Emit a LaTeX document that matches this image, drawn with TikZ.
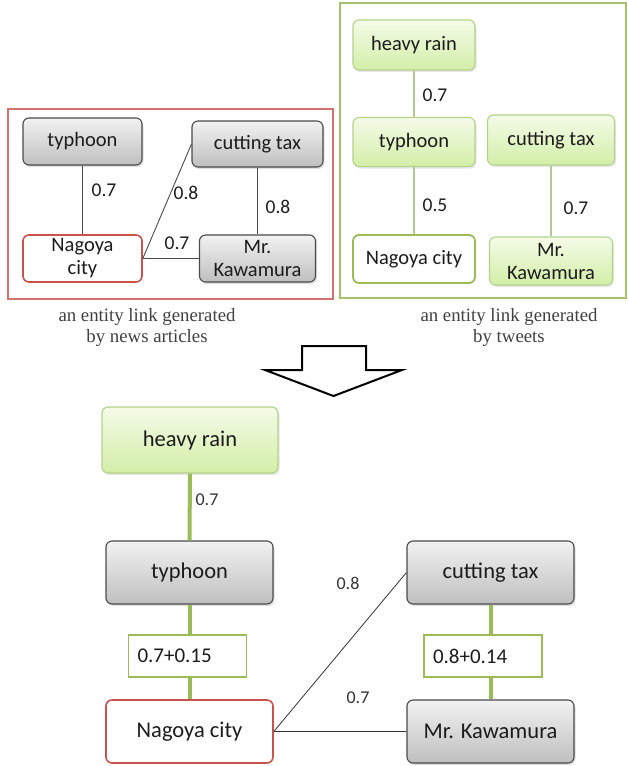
\documentclass[tikz,border=0pt]{standalone}
\usepackage{fontspec}
\setmainfont{Carlito}
\newfontfamily\capfont{Liberation Serif}
\usetikzlibrary{shadows}
\definecolor{grayTop}{HTML}{F2F2F2}
\definecolor{grayBot}{HTML}{BFBFBF}
\definecolor{grayEdge}{HTML}{4A4A4A}
\definecolor{greenTop}{HTML}{F4FBE8}
\definecolor{greenBot}{HTML}{D3EEA8}
\definecolor{greenEdge}{HTML}{B5D28A}
\definecolor{oliveEdge}{HTML}{9BBB59}
\definecolor{redEdge}{HTML}{C9524F}
\definecolor{redFrame}{HTML}{D27370}
\definecolor{greenFrame}{HTML}{A5C36A}
\definecolor{linkGreen}{HTML}{B3C893}
\definecolor{textDark}{HTML}{1C1C1C}
\tikzset{
  ent/.style={rounded corners=6pt, inner sep=0pt, align=center, text=textDark},
  grayent/.style={ent, draw=grayEdge, line width=1.1pt, top color=grayTop, bottom color=grayBot,
    drop shadow={shadow xshift=1.5pt, shadow yshift=-2pt, opacity=0.25, fill=gray}},
  greenent/.style={ent, draw=greenEdge, line width=1.1pt, top color=greenTop, bottom color=greenBot,
    drop shadow={shadow xshift=1.5pt, shadow yshift=-2pt, opacity=0.2, fill=gray}},
  redent/.style={ent, draw=redEdge, line width=1.6pt, fill=white},
  whitegreenent/.style={ent, draw=oliveEdge, line width=1.8pt, fill=white},
  smallfont/.style={font=\fontsize{20.5}{23}\selectfont},
  bigfont/.style={font=\fontsize{22.5}{26}\selectfont},
  wt/.style={text=textDark, inner sep=1pt, font=\fontsize{19.5}{22}\selectfont},
  lowwt/.style={text=textDark!90, inner sep=1pt, font=\fontsize{18}{21}\selectfont},
  sumbox/.style={draw=oliveEdge, line width=1.8pt, fill=white, minimum height=42pt,
    text width=100pt, inner xsep=9pt, align=left, text=textDark, font=\fontsize{21}{24}\selectfont},
  thinlink/.style={draw=grayEdge, line width=0.9pt},
  greenlink/.style={draw=linkGreen, line width=1.6pt},
  thicklink/.style={draw=oliveEdge, line width=4pt},
  lowlink/.style={draw=black!80, line width=0.8pt},
  caption/.style={align=center, text=black!75, font=\capfont\fontsize{18.8}{21}\selectfont}
}
\begin{document}
\begin{tikzpicture}[x=1pt,y=-1pt]
\useasboundingbox (0,0) rectangle (628,766);

% frames of the two source graphs
\draw[redFrame, line width=1.8pt] (8,109) rectangle (333,299);
\draw[greenFrame, line width=1.8pt] (340,3) rectangle (626,298);

% entity link from news articles
\node[grayent, smallfont, minimum width=119pt, minimum height=47pt] (Ltyp) at (82.5,141.5) {typhoon};
\node[grayent, smallfont, minimum width=131pt, minimum height=46pt] (Lcut) at (257.5,144) {cutting tax};
\node[redent, smallfont, minimum width=119pt, minimum height=47pt] (Lnag) at (82.5,258.5) {Nagoya\\city};
\node[grayent, smallfont, minimum width=116pt, minimum height=47pt] (Lkaw) at (257.5,258.5) {Mr.\\Kawamura};
\draw[thinlink] (Ltyp) -- (Lnag);
\draw[thinlink] (Lnag.east) -- (Lcut.west);
\draw[thinlink] (Lnag.east) -- (Lkaw.west);
\draw[thinlink] (Lcut) -- (Lkaw);
\node[wt] (Lw1) at (104,190) {0.7};
\node[wt] (Lw2) at (186,193) {0.8};
\node[wt] (Lw3) at (177,243) {0.7};
\node[wt] (Lw4) at (278,207) {0.8};

% entity link from tweets
\node[greenent, smallfont, minimum width=122pt, minimum height=50pt] (Rrain) at (414,45) {heavy rain};
\node[greenent, smallfont, minimum width=122pt, minimum height=49pt] (Rtyp) at (414,142) {typhoon};
\node[greenent, smallfont, minimum width=127pt, minimum height=50pt] (Rcut) at (551,140) {cutting tax};
\node[whitegreenent, smallfont, minimum width=122pt, minimum height=48pt] (Rnag) at (414,259) {Nagoya city};
\node[greenent, smallfont, minimum width=123pt, minimum height=48pt] (Rkaw) at (551,261) {Mr.\\Kawamura};
\draw[greenlink] (Rrain) -- (Rtyp);
\draw[greenlink] (Rtyp) -- (Rnag);
\draw[greenlink] (Rcut) -- (Rkaw);
\node[wt] (Rw1) at (435,95) {0.7};
\node[wt] (Rw2) at (435,205) {0.5};
\node[wt] (Rw3) at (576,208) {0.7};

% captions
\node[caption] (capL) at (147,327.5) {an entity link generated\\by news articles};
\node[caption] (capR) at (509,327.5) {an entity link generated\\by tweets};

% merge arrow
\draw[black, line width=2pt, line join=miter, fill=white]
  (302,346) -- (366,346) -- (366,370) -- (402,370) -- (333.5,396) -- (265,370) -- (302,370) -- cycle;

% merged entity link
\node[greenent, bigfont, minimum width=176pt, minimum height=66pt] (Mrain) at (190,440) {heavy rain};
\node[grayent, bigfont, minimum width=167pt, minimum height=63pt] (Mtyp) at (189.5,572.5) {typhoon};
\node[redent, bigfont, minimum width=167pt, minimum height=63pt] (Mnag) at (189.5,731.5) {Nagoya city};
\node[grayent, bigfont, minimum width=167pt, minimum height=63pt] (Mcut) at (490.5,572.5) {cutting tax};
\node[grayent, bigfont, minimum width=167pt, minimum height=63pt] (Mkaw) at (490.5,731.5) {Mr. Kawamura};
\node[sumbox] (Msum1) at (187.5,656) {0.7+0.15};
\node[sumbox] (Msum2) at (483,656) {0.8+0.14};

\draw[thicklink] (Mrain.south) -- (Mtyp.north);
\draw[thicklink] (Mtyp.south) -- (Mtyp.south |- Msum1.north);
\draw[thicklink] (Mtyp.south |- Msum1.south) -- (Mnag.north);
\draw[thicklink] (Mcut.south) -- (Mcut.south |- Msum2.north);
\draw[thicklink] (Mcut.south |- Msum2.south) -- (Mkaw.north);
\draw[lowlink] (Mnag.east) -- (Mcut.west);
\draw[lowlink] (Mnag.east) -- (Mkaw.west);
\node[lowwt] (Mw1) at (207,500) {0.7};
\node[lowwt] (Mw2) at (348,583) {0.8};
\node[lowwt] (Mw3) at (358,698) {0.7};
\end{tikzpicture}
\end{document}
